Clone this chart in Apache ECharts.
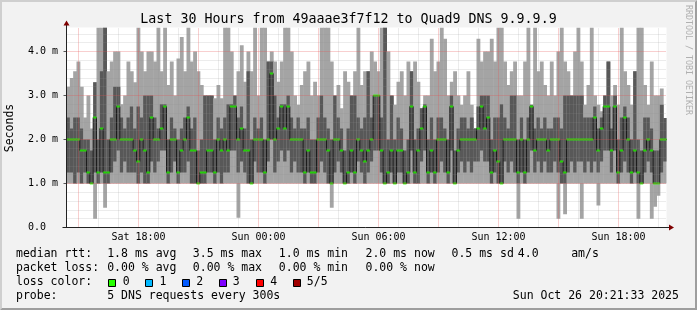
<!DOCTYPE html>
<html><head><meta charset="utf-8">
<script src="https://cdn.jsdelivr.net/npm/echarts@6/dist/echarts.min.js"></script>
<style>html,body{margin:0;padding:0;background:#f2f2f2}#c{width:697px;height:310px}</style>
</head><body><div id="c"></div>
<script>
// time axis: hours counted from Sat 00:00; 10-minute steps
const startHour = 14.4;
const stepHours = 1 / 6;
const xTickHours = [18, 24, 30, 36, 42];
const xTickLabels = ['Sat 18:00', 'Sun 00:00', 'Sun 06:00', 'Sun 12:00', 'Sun 18:00'];
const yTickValues = [0, 1, 2, 3, 4];
const yTickLabels = ['0.0', '1.0 m', '2.0 m', '3.0 m', '4.0 m'];

// rtt values in ms (5 sorted pings per step: min, 2nd, median, 4th, max)
const minRtt = [
1,1,1,1,1,1,1,1,0.2,1, 1,0.45,1,1,1,1,1,1,1,1, 1,1,1,1,1,1,1,1,1,1, 1,1,1,1,1,1,1,1,1,1,
1,1,1,1,1,1,1,1,1,1, 1,0.22,1,1,1,1,1,1,1,1, 1,1,1,1,1,1,1,1,1,1, 1,1,1,1,1,1,1,1,1,0.45,
1,1,1,1,1,1,1,1,1,1, 1,1,1,1,1,1,1,1,1,1, 1,1,1,1,1,1,1,1,1,1, 1,1,1,1,1,1,1,1,1,1,
1,1,1,1,1,1,1,1,1,1, 1,1,1,1,1,0.2,1,1,1,1, 1,1,1,1,1,1,1,0.2,1,0.3, 1,1,1,1,0.2,1,1,1,1,0.5,
1,1,1,1,1,1,1,1,1,1, 1,0.2,1,1,1,0.2,0.47,0.72,1,1];
const p2Rtt = [
1.25,1.25,1,1.25,1,1.25,1,1,1.25,1, 1.25,1,1,1.25,1.5,1.75,1.25,1.5,1.25,1.25,
1.25,1,1.25,1,1,1.5,1.25,1.5,1.75,1.75, 1,1.25,1.5,1,1.25,1.25,1.5,1,1,1,
1,1,1.25,1.25,1,1.25,1,1.25,1.25,1.75, 1.75,1.25,1.5,1.25,1,1,1.5,1.25,1.25,1,
1.5,2,1.25,1.5,1.75,1.5,1.75,1.25,1.5,1.25, 1.25,1,1.25,1,1,1.25,1.5,1.25,1,1,
1.25,1.5,1.25,1,1,1.25,1,1.5,1.25,1, 1.25,1.5,1.75,1.75,1.25,1,1,1.25,1,1.25,
1.25,1,1,1.75,1,1,1.5,1.75,1,1.25, 1,1.25,1.5,1.25,1,1.75,1,1.25,1.5,1.25,
1.5,1.25,1.5,1.5,1.75,1.5,1.5,1,1.25,1, 1,1.5,1.25,1.5,1.25,1,1.25,1,1.25,1.75,
1.25,1.5,1.25,1.5,1.25,1.25,1.5,1.25,1,1, 1.25,1.5,1.25,1.5,1.5,1.25,1.5,1.25,1.5,1.25,
1.5,1.75,1.75,1.25,1.75,1,1.25,1.5,1.25,1, 1.25,1,1,1.25,1.5,1.25,1,1,1.25,1.5];
const medRtt = [
2,2,2,2,1.75,1.75,1.25,1,2.5,1.25, 2.25,1.25,1.25,2,2,2.75,2,2,2,2,
1.75,1.5,2,1.75,1.25,2.5,2,2,2.25,2.75, 1.25,2,2,1.25,1.75,2,2.5,1.75,1.75,1,
1.25,1.25,1.75,1.75,1.25,2,1.75,2,1.75,2.75, 2.75,2,2.25,1.75,1.75,1,2,2,2,1.25,
2,3.5,2,2.25,2.75,2.25,2.75,2,2,2, 2,1.25,1.75,1.25,1.25,2,2,2,1.75,1,
2,2,1.75,1,1.25,1.75,1.25,2,1.75,1.5, 1.75,2,3,3,1.75,1,1.25,1.75,1,1.75,
1.75,1,1.25,2.75,1.25,1.75,2.25,2.75,1.25,1.75, 1.25,2,2,2,1.25,2.75,1,1.75,2,2,
2,2,2,2.25,2.75,2.25,2.5,1.25,1.75,1.5, 1,2,2,2,2,1.25,2,1.25,2,2.75,
1.75,2,2,2,1.75,2,2,2,1.5,1.25, 2,2,2,2,2,2,2,2,2.5,1.75,
2.25,2.75,2.75,1.75,2.75,1.25,1.75,2.5,2,1.25, 1.75,1.25,1,1.75,2,1.75,1,1,2,2];
const p4Rtt = [
2.5,2.25,2.5,2.5,2.25,2,2,1.75,3.3,2, 3.55,4.6,2,2.5,3.2,3.2,2.5,2.25,2.5,2.75,
2.25,2.75,2.5,3,3,3,2.5,2.25,2.8,2.8, 2,2.5,2.25,2,2.25,2.5,2.75,2.25,2.5,1.75,
2,3,3,3,2,2.5,2.25,2.5,2.8,2.8, 3,2.5,2.75,2.25,3.55,2,2.5,2.25,2.5,2,
3.77,3.77,3,2.5,2.8,2.8,3,2.5,2.25,2.5, 2.25,2.25,2.5,2,2,2.5,3,2.5,2.25,2,
3,2.5,2.25,1.75,2.25,3,3,2.5,2.25,2.5, 3.55,2.5,3,3,2.5,4.6,2,3,2,2.5,
2.25,1.75,2,3.55,2,2.25,2.71,2.8,2,2.5, 2,2.5,2.5,2.25,2,3,1.75,2.25,2.5,2.5,
2.25,2.5,2.25,2.75,3,3,3,2,2.5,2.5, 2.8,2.5,2.25,3,3,2,2.5,2,2.5,2.79,
2.25,2.5,2.25,2.5,2.25,2.25,2.5,2.5,2.25,3, 3,3,3,3,3,2.5,2.5,2.5,2.75,2.25,
2.5,3,3.77,2.25,3,2,2.5,2.75,2.5,2, 3.55,2,1.75,2.5,2.5,2.25,1.75,1.75,2.79,2.49];
const maxRtt = [
3.2,3.4,3.55,3.77,3.2,2.5,3,2.25,3.3,4.6, 4.6,4.6,3.55,3.77,4,4,2.8,3,3.77,3.55,
3.3,4.6,4,3.55,4,4,3.77,4.6,3.55,4.6, 3.24,3.77,3,3.84,4.33,3.55,4.6,3.77,4,3.55,
3.24,3,3,3,2.94,3.24,2.94,4.6,4.6,4, 3,3.55,4.14,3.31,4,3.55,4.6,3,4.6,4.6,
3.77,4,3.77,3.31,3.77,4.6,4.6,4,3,2.79, 3.24,3.55,3.77,3,3.31,3,4.6,4.6,4.6,3.77,
3,3.24,2.71,3.55,3.31,3,3.55,4.6,3.24,3.55, 3.55,4,3.77,3.55,4.6,4.6,4,3,2.79,3.31,
3.55,3,3.77,3.55,3.77,3.31,2.71,3,3,4.29, 3.55,3.77,4.6,4.29,3,3.31,3.55,3,2.79,3,
3.55,2.79,2.26,4.29,3.77,4,4,4.29,3.77,4.6, 4.6,3.77,3.24,3.55,3.77,3,3,3.77,4.6,2.79,
4.6,3.55,3.77,3.24,3,3.77,3,4,4.6,3.77, 3.55,3,4,4.6,3.77,2.79,3.24,4.6,3,2.79,
2.64,3,3.77,3,3.24,2.79,4.6,3.55,3.24,2.79, 3.55,4.6,4.6,3.24,2.79,3.77,3,3,3.16,2.49];

const statLines = [
  {y: 254.5, items: [[16, 'median rtt:'], [107.2, '1.8 ms avg'], [192.8, '3.5 ms max'], [278.8, '1.0 ms min'], [365.5, '2.0 ms now'], [451.5, '0.5 ms sd'], [517.8, '4.0'], [571.2, 'am/s']]},
  {y: 268.5, items: [[16, 'packet loss:'], [107.2, '0.00 % avg'], [192.8, '0.00 % max'], [278.8, '0.00 % min'], [365.5, '0.00 % now']]},
  {y: 282.5, items: [[16, 'loss color:']]},
  {y: 296.3, items: [[16, 'probe:'], [107.2, '5 DNS requests every 300s'], [512.8, 'Sun Oct 26 20:21:33 2025']]}
];
const lossColors = ['#26ff00', '#00b8ff', '#0059ff', '#7e00ff', '#ff0000', '#a10000'];
const lossLabels = ['0', '1', '2', '3', '4', '5/5'];
const lossSwatchX = [108.5, 145.5, 182.5, 219.5, 256.5, 293.5];
const lossLabelX = [122.8, 159.5, 196.2, 232.8, 270.2, 306.8];

const MONO = '"DejaVu Sans Mono", monospace';
const GL = 66.5, GT = 27.5, GW = 600, GH = 200;

function edges(arr) {
  const out = arr.map((v, i) => [startHour + i * stepHours, v]);
  out.push([startHour + arr.length * stepHours, arr[arr.length - 1]]);
  return out;
}
const centers = medRtt.map((v, i) => [startHour + (i + 0.5) * stepHours, v]);
const smokeData = minRtt.map((v, i) => [startHour + i * stepHours, startHour + (i + 1) * stepHours, v, p2Rtt[i], p4Rtt[i], maxRtt[i]]);

function renderSmoke(params, api) {
  const cs = params.coordSys;
  const area = {x: cs.x, y: cs.y, width: cs.width, height: cs.height};
  const x0 = api.value(0), x1 = api.value(1);
  const lt = api.coord([x0, api.value(5)]), lb = api.coord([x1, api.value(2)]);
  const dt = api.coord([x0, api.value(4)]), db = api.coord([x1, api.value(3)]);
  const light = echarts.graphic.clipRectByRect({x: lt[0], y: lt[1], width: lb[0] - lt[0] + 0.5, height: lb[1] - lt[1]}, area);
  const dark = echarts.graphic.clipRectByRect({x: dt[0], y: dt[1], width: db[0] - dt[0] + 0.5, height: db[1] - dt[1]}, area);
  const children = [];
  if (light) children.push({type: 'rect', shape: light, style: {fill: '#a4a4a4'}});
  if (dark) children.push({type: 'rect', shape: dark, style: {fill: '#585858'}});
  return {type: 'group', children: children};
}

const gridLines = [];
for (let h = 15; h <= 44; h++) {
  const major = h % 3 === 0;
  gridLines.push({xAxis: h, lineStyle: {color: major ? 'rgba(232,80,80,0.55)' : 'rgba(143,143,143,0.35)', width: 1, type: [1, 1]}});
}
for (let k = 1; k <= 22; k++) {
  const major = k % 5 === 0;
  gridLines.push({yAxis: k / 5, lineStyle: {color: major ? 'rgba(232,80,80,0.55)' : 'rgba(143,143,143,0.35)', width: 1, type: [1, 1]}});
}

const graphics = [
  {type: 'polygon', z: 1, shape: {points: [[0,0],[697,0],[695,2],[2,2],[2,308],[0,310]]}, style: {fill: '#cfcfcf'}},
  {type: 'polygon', z: 1, shape: {points: [[697,0],[697,310],[0,310],[2,308],[695,308],[695,2]]}, style: {fill: '#9e9e9e'}},
  {type: 'text', z: 20, style: {text: 'Last 30 Hours from 49aaae3f7f12 to Quad9 DNS 9.9.9.9', x: 348.5, y: 20, align: 'center', verticalAlign: 'middle', font: '13.3px ' + MONO, fill: '#000'}},
  {type: 'text', z: 20, x: 10.5, y: 128, rotation: Math.PI / 2, style: {text: 'Seconds', x: 0, y: 0, align: 'center', verticalAlign: 'middle', font: '11.5px ' + MONO, fill: '#000'}},
  {type: 'text', z: 20, x: 688.5, y: 60, rotation: -Math.PI / 2, style: {text: 'RRDTOOL / TOBI OETIKER', x: 0, y: 0, align: 'center', verticalAlign: 'middle', font: '8.3px ' + MONO, fill: '#b0b0b0'}},
  {type: 'line', z: 30, shape: {x1: GL, y1: GT + GH, x2: GL, y2: 24}, style: {stroke: '#222', lineWidth: 1}},
  {type: 'line', z: 30, shape: {x1: 62.5, y1: GT + GH, x2: 669, y2: GT + GH}, style: {stroke: '#222', lineWidth: 1}},
  {type: 'polygon', z: 30, shape: {points: [[63.5,25.5],[69.5,25.5],[66.5,20.5]]}, style: {fill: '#7f0000'}},
  {type: 'polygon', z: 30, shape: {points: [[669,224.5],[669,230.5],[674,227.5]]}, style: {fill: '#7f0000'}}
];
statLines.forEach(line => line.items.forEach(([x, t]) => graphics.push(
  {type: 'text', z: 20, style: {text: t, x: x, y: line.y, align: 'left', verticalAlign: 'middle', font: '11.5px ' + MONO, fill: '#000'}})));
lossColors.forEach((c, i) => {
  graphics.push({type: 'rect', z: 20, shape: {x: lossSwatchX[i], y: 279.5, width: 7, height: 7}, style: {fill: c, stroke: '#000', lineWidth: 1}});
  graphics.push({type: 'text', z: 20, style: {text: lossLabels[i], x: lossLabelX[i], y: 282.5, align: 'left', verticalAlign: 'middle', font: '11.5px ' + MONO, fill: '#000'}});
});

const chart = echarts.init(document.getElementById('c'), null, {renderer: 'canvas'});
chart.setOption({
  animation: false,
  backgroundColor: '#f2f2f2',
  grid: {left: GL, top: GT, width: GW, height: GH, show: true, backgroundColor: '#ffffff', borderWidth: 0, containLabel: false},
  xAxis: {
    type: 'value', min: startHour, max: startHour + 30,
    axisLine: {show: false}, axisTick: {show: false}, splitLine: {show: false},
    axisLabel: {customValues: xTickHours, margin: 5, fontFamily: MONO, fontSize: 10, color: '#000',
      formatter: v => xTickLabels[xTickHours.indexOf(Math.round(v))] || ''}
  },
  yAxis: {
    type: 'value', min: 0, max: GH / 44,
    axisLine: {show: false}, splitLine: {show: false},
    axisTick: {show: true, customValues: yTickValues, length: 3, lineStyle: {color: '#555', width: 1}},
    axisLabel: {customValues: yTickValues, align: 'left', margin: 38.5, fontFamily: MONO, fontSize: 10, color: '#000',
      formatter: v => yTickLabels[yTickValues.indexOf(Math.round(v))] || ''}
  },
  graphic: {elements: graphics},
  series: [
    {type: 'custom', data: smokeData, renderItem: renderSmoke, encode: {x: [0, 1], y: [2, 3, 4, 5]}, z: 2, silent: true, clip: true},
    {type: 'line', step: 'end', data: edges(medRtt), symbol: 'none', lineStyle: {width: 1, color: '#1c1c1c'}, z: 3, silent: true},
    {type: 'scatter', data: centers, symbol: 'rect', symbolSize: [3.4, 2], itemStyle: {color: '#26ff00'}, z: 4, silent: true},
    {type: 'line', data: [[startHour, -1]], symbol: 'none', lineStyle: {opacity: 0}, z: 5, silent: true,
      markLine: {silent: true, symbol: ['none', 'none'], label: {show: false}, animation: false, data: gridLines}}
  ]
});
</script>
</body></html>
